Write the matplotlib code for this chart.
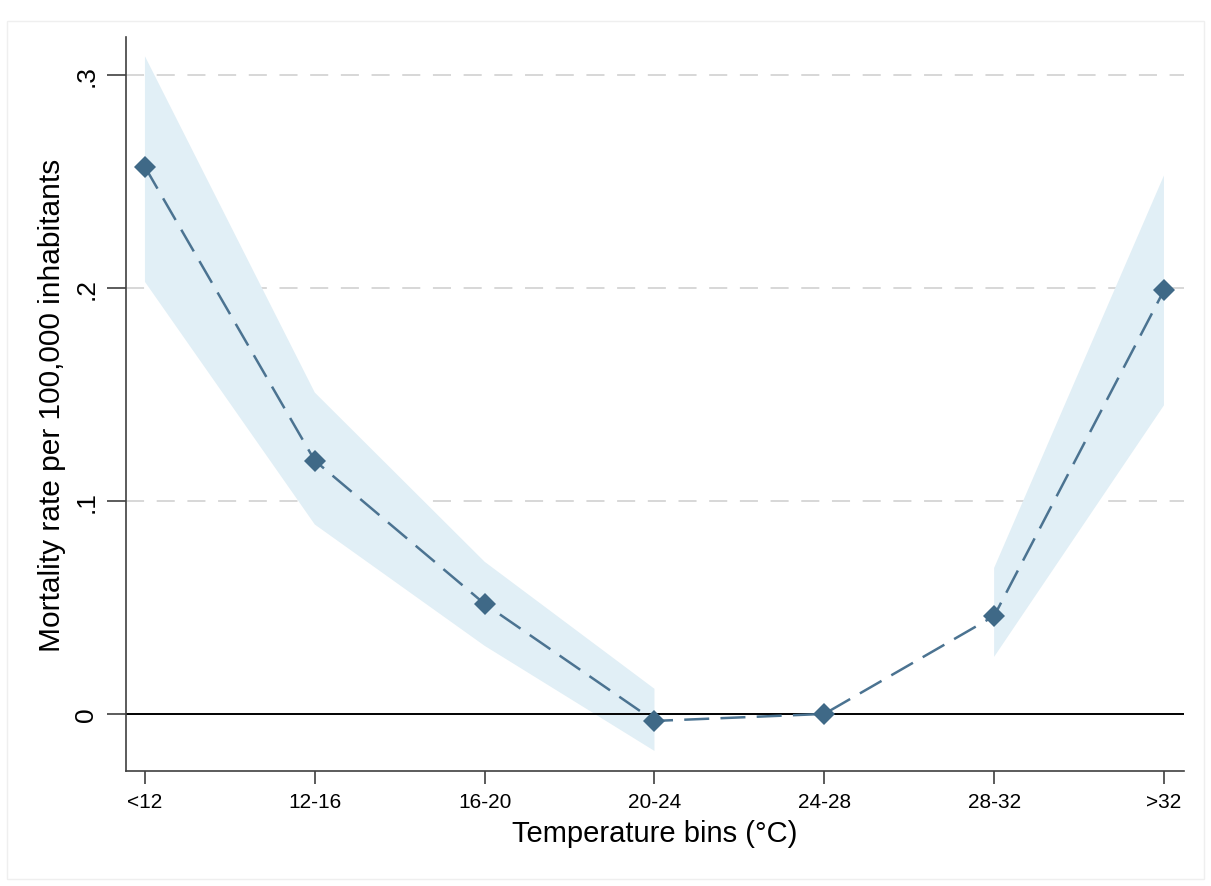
import numpy as np
import matplotlib
matplotlib.use("Agg")
import matplotlib.pyplot as plt
from matplotlib.patches import Rectangle

bins = ["<12", "12-16", "16-20", "20-24", "24-28", "28-32", ">32"]
estimate = [0.257, 0.119, 0.0517, -0.0033, 0.0, 0.046, 0.199]
ci_low = [0.203, 0.089, 0.032, -0.0174, np.nan, 0.0268, 0.145]
ci_high = [0.309, 0.151, 0.0715, 0.0118, np.nan, 0.0686, 0.253]
yticks = [0, 0.1, 0.2, 0.3]
ytick_labels = ["0", ".1", ".2", ".3"]

plt.rcParams["font.family"] = ["Liberation Sans", "DejaVu Sans"]

x = np.arange(len(bins))

fig = plt.figure(figsize=(12.11, 8.87), dpi=100)
fig.patches.append(Rectangle((0.006, 0.008), 0.988, 0.967, transform=fig.transFigure,
                             fill=False, edgecolor="#efefef", linewidth=1.0))
ax = fig.add_axes([0.104, 0.1297, 0.8737, 0.8273])

ax.fill_between(x, ci_low, ci_high, color="#e1eff6", linewidth=0, zorder=1)

for yv in yticks[1:]:
    ax.axhline(yv, color="#d4d4d4", linewidth=1.3, dashes=(10, 7), zorder=0)
ax.axhline(0, color="black", linewidth=1.4, zorder=2)

ax.plot(x, estimate, color="#4b7391", linewidth=1.8, dashes=(10, 4.5), zorder=3)
ax.plot(x, estimate, linestyle="none", marker="D", markersize=11.5,
        color="#3f6987", markeredgewidth=0, zorder=4)

ax.set_xlim(-0.112, 6.118)
ax.set_ylim(-0.0268, 0.318)
ax.set_xticks(x)
ax.set_xticklabels(bins, fontsize=15)
ax.set_yticks(yticks)
ax.set_yticklabels(ytick_labels, fontsize=19, rotation=90, va="center")

ax.tick_params(axis="x", length=9, width=1.2, color="#404040", pad=6)
ax.tick_params(axis="y", length=14, width=1.2, color="#404040", pad=6)

for side in ["top", "right"]:
    ax.spines[side].set_visible(False)
for side in ["left", "bottom"]:
    ax.spines[side].set_color("#404040")
    ax.spines[side].set_linewidth(1.2)

ax.set_xlabel("Temperature bins (°C)", fontsize=21, labelpad=6)
ax.set_ylabel("Mortality rate per 100,000 inhabitants", fontsize=21.5, labelpad=6)

fig.savefig("out.png", dpi=100)
